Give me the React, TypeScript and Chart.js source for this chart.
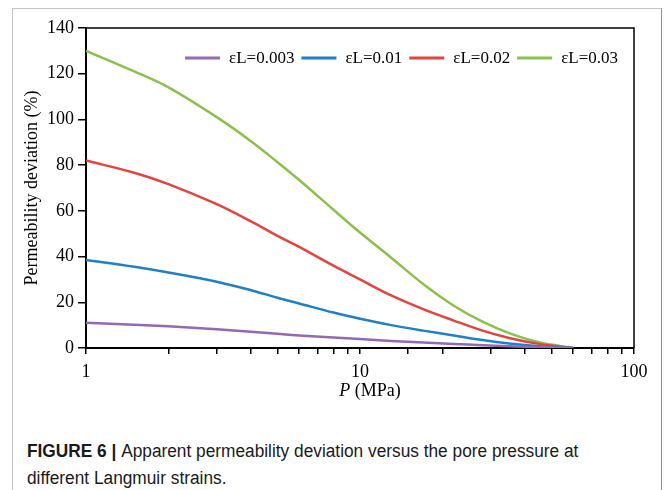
import { useEffect, useRef } from "react";
import { Chart, registerables } from "chart.js";

Chart.register(...registerables);

const pressures = [1, 1.5, 2, 3, 4, 5, 6, 8, 10, 13, 17, 22, 28, 35, 45, 60];
const dev003 = [11, 10.2, 9.5, 8.2, 7.1, 6.2, 5.5, 4.6, 3.9, 3.1, 2.4, 1.8, 1.2, 0.8, 0.35, 0];
const dev01 = [38.5, 35.5, 33, 29, 25.3, 22, 19.5, 15.5, 12.8, 10, 7.6, 5.5, 3.5, 2, 0.8, 0];
const dev02 = [82, 76.7, 71.7, 62.9, 55.4, 49.1, 44.2, 36, 30, 23, 17, 12, 7.6, 4.4, 1.8, 0];
const dev03 = [130, 121, 114, 101, 90.5, 81.3, 73.5, 60.5, 50.5, 39.5, 28, 18.5, 11.5, 6.5, 2.5, 0];

const seriesLabels = ["εL=0.003", "εL=0.01", "εL=0.02", "εL=0.03"];
const seriesValues = [dev003, dev01, dev02, dev03];
const seriesColors = ["#9469b3", "#1f80c8", "#e2453d", "#8cbf4d"];
const xTickLabels = [1, 10, 100];

const SERIF = '"Liberation Serif", "Times New Roman", serif';

const overlayPlugin = {
  id: "overlay",
  afterDraw(chart: any) {
    const { ctx, chartArea: a } = chart;
    ctx.save();
    // top & right frame of the plot
    ctx.strokeStyle = "#000";
    ctx.lineWidth = 1.5;
    ctx.beginPath();
    ctx.moveTo(a.left, a.top);
    ctx.lineTo(a.right, a.top);
    ctx.lineTo(a.right, a.bottom);
    ctx.stroke();

    // x axis title with italic P
    ctx.fillStyle = "#000";
    ctx.textBaseline = "middle";
    ctx.textAlign = "left";
    ctx.font = `italic 18px ${SERIF}`;
    const w1 = ctx.measureText("P").width;
    ctx.font = `18px ${SERIF}`;
    const w2 = ctx.measureText(" (MPa)").width;
    const cx = (a.left + a.right) / 2 + 10;
    const ty = 391;
    const x = cx - (w1 + w2) / 2;
    ctx.font = `italic 18px ${SERIF}`;
    ctx.fillText("P", x, ty);
    ctx.font = `18px ${SERIF}`;
    ctx.fillText(" (MPa)", x + w1, ty);

    // legend, right aligned inside plot area
    const boxW = 35;
    const gapText = 9;
    const gapItem = 7;
    const ly = a.top + 30;
    ctx.font = `17px ${SERIF}`;
    const widths = seriesLabels.map((t) => ctx.measureText(t).width);
    const total = widths.reduce((s, w) => s + boxW + gapText + w, 0) + gapItem * (seriesLabels.length - 1);
    let lx = a.right - 16 - total;
    seriesLabels.forEach((t, i) => {
      ctx.strokeStyle = seriesColors[i];
      ctx.lineWidth = 3;
      ctx.beginPath();
      ctx.moveTo(lx, ly);
      ctx.lineTo(lx + boxW, ly);
      ctx.stroke();
      ctx.fillStyle = "#000";
      ctx.fillText(t, lx + boxW + gapText, ly + 1);
      lx += boxW + gapText + widths[i] + gapItem;
    });
    ctx.restore();
  },
};

export default function App() {
  const ref = useRef<HTMLCanvasElement | null>(null);

  useEffect(() => {
    if (!ref.current) return;
    const chart = new Chart(ref.current, {
      type: "line",
      data: {
        datasets: seriesLabels.map((label, i) => ({
          label,
          data: pressures.map((p, j) => ({ x: p, y: seriesValues[i][j] })),
          borderColor: seriesColors[i],
          backgroundColor: seriesColors[i],
          borderWidth: 2.5,
          pointRadius: 0,
          tension: 0.35,
          fill: false,
        })),
      },
      options: {
        responsive: false,
        animation: false,
        layout: { padding: { left: 0, top: 28, right: 30, bottom: 0 } },
        plugins: {
          legend: { display: false },
          tooltip: { enabled: false },
        },
        scales: {
          x: {
            type: "logarithmic",
            min: 1,
            max: 100,
            afterFit: (s: any) => {
              s.height = 72;
            },
            border: { color: "#000", width: 2 },
            grid: {
              drawOnChartArea: false,
              drawTicks: true,
              tickLength: 6,
              color: "#000",
              lineWidth: 1.5,
            },
            ticks: {
              autoSkip: false,
              maxRotation: 0,
              padding: 7,
              color: "#000",
              font: { family: SERIF, size: 18 },
              callback: (v: any) => (xTickLabels.includes(Number(v)) ? String(v) : ""),
            },
          },
          y: {
            min: 0,
            max: 140,
            afterFit: (s: any) => {
              s.width = 86;
            },
            border: { color: "#000", width: 2 },
            grid: {
              drawOnChartArea: false,
              drawTicks: true,
              tickLength: 8,
              color: "#000",
              lineWidth: 1.5,
            },
            ticks: {
              stepSize: 20,
              padding: 4,
              color: "#000",
              font: { family: SERIF, size: 18 },
            },
            title: {
              display: true,
              text: "Permeability deviation (%)",
              color: "#000",
              font: { family: SERIF, size: 18 },
              padding: { top: 21, bottom: 0 },
            },
          },
        },
      },
      plugins: [overlayPlugin],
    });
    return () => chart.destroy();
  }, []);

  return (
    <div
      style={{
        position: "fixed",
        left: 0,
        top: 0,
        width: 664,
        height: 490,
        background: "#fff",
        overflow: "hidden",
      }}
    >
      <div
        style={{
          position: "absolute",
          left: 12,
          top: 8,
          width: 648,
          height: 500,
          borderLeft: "1px solid #c4c4c4",
          borderTop: "1px solid #c4c4c4",
          borderRight: "1px solid #8f8f8f",
        }}
      />
      <canvas ref={ref} width={664} height={420} style={{ position: "absolute", left: 0, top: 0 }} />
      <div
        style={{
          position: "absolute",
          left: 27,
          top: 438,
          fontFamily: '"Liberation Sans", Arial, sans-serif',
          fontSize: 18,
          lineHeight: "27px",
          color: "#1a1a1a",
          whiteSpace: "nowrap",
          transform: "scaleX(0.96)",
          transformOrigin: "left top",
        }}
      >
        <span style={{ fontWeight: "bold" }}>FIGURE 6 | </span>
        Apparent permeability deviation versus the pore pressure at
        <br />
        different Langmuir strains.
      </div>
    </div>
  );
}
